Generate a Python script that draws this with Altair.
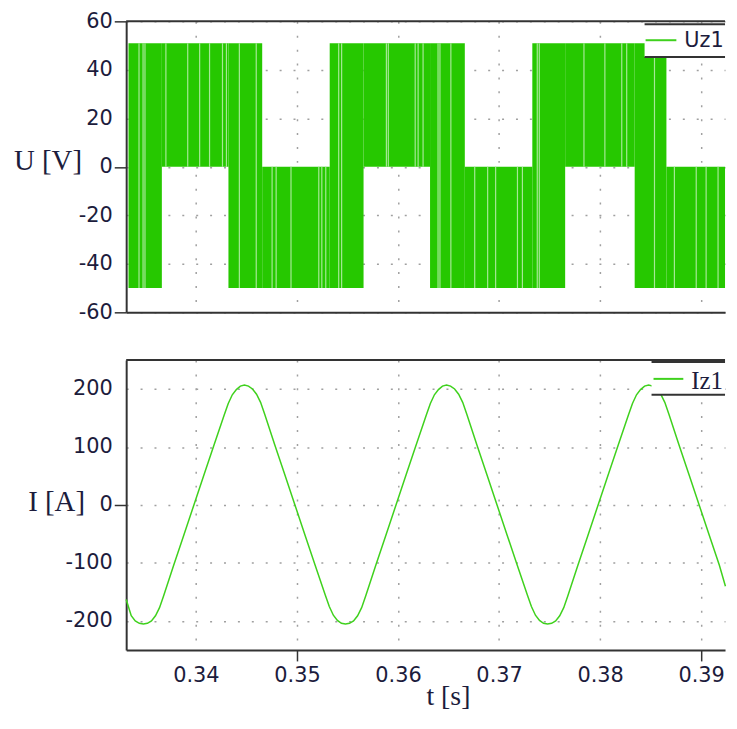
import altair as alt
import pandas as pd

# ---------------- data ----------------
x_ticks = [0.34, 0.35, 0.36, 0.37, 0.38, 0.39]
u_ticks = [60, 40, 20, 0, -20, -40, -60]
i_ticks = [200, 100, 0, -100, -200]

# PWM voltage Uz1: switching blocks (time start, time end, low level, high level)
seg_start = [0.33333, 0.33663, 0.34322, 0.34656, 0.35324, 0.35659, 0.36317,
             0.36661, 0.37329, 0.37654, 0.38342, 0.38656]
seg_end = [0.33663, 0.34322, 0.34656, 0.35324, 0.35659, 0.36317, 0.36661,
           0.37329, 0.37654, 0.38342, 0.38656, 0.39236]
seg_low = [-50, 0, -50, -50, -50, 0, -50, -50, -50, 0, -50, -50]
seg_high = [51, 51, 51, 0, 51, 51, 51, 0, 51, 51, 51, 0]

# visible lighter switching lines inside the blocks
gap_t = [0.33437, 0.33477, 0.33496, 0.33703, 0.33919, 0.34037, 0.34135,
         0.34263, 0.34302, 0.34430, 0.34597, 0.34754, 0.34794, 0.34941,
         0.35216, 0.35246, 0.35285, 0.35413, 0.35442, 0.35885, 0.35904,
         0.36170, 0.36199, 0.36248, 0.36396, 0.36415, 0.36523, 0.36759,
         0.36887, 0.36966, 0.37182, 0.37231, 0.37378, 0.37398, 0.37840,
         0.38047, 0.38214, 0.38263, 0.38538, 0.38735, 0.38951, 0.39049,
         0.39167]

# current Iz1
i_t = [0.3331, 0.3336, 0.3340, 0.3344, 0.3348, 0.3352, 0.3356, 0.3360, 0.3364,
       0.3368, 0.3378, 0.3388, 0.3398, 0.3408, 0.3418, 0.3428, 0.3432, 0.3436,
       0.3440, 0.3444, 0.3448, 0.3452, 0.3456, 0.3460, 0.3464, 0.3468, 0.3478,
       0.3488, 0.3498, 0.3508, 0.3518, 0.3528, 0.3532, 0.3536, 0.3540, 0.3544,
       0.3548, 0.3552, 0.3556, 0.3560, 0.3564, 0.3568, 0.3578, 0.3588, 0.3598,
       0.3608, 0.3618, 0.3628, 0.3632, 0.3636, 0.3640, 0.3644, 0.3648, 0.3652,
       0.3656, 0.3660, 0.3664, 0.3668, 0.3678, 0.3688, 0.3698, 0.3708, 0.3718,
       0.3728, 0.3732, 0.3736, 0.3740, 0.3744, 0.3748, 0.3752, 0.3756, 0.3760,
       0.3764, 0.3768, 0.3778, 0.3788, 0.3798, 0.3808, 0.3818, 0.3828, 0.3832,
       0.3836, 0.3840, 0.3844, 0.3848, 0.3852, 0.3856, 0.3860, 0.3864, 0.3868,
       0.3878, 0.3888, 0.3898, 0.3908, 0.3918, 0.3924]
i_val = [-163, -191, -200, -204, -205, -204, -200, -191, -177, -157, -104, -52,
         0, 52, 104, 155, 175, 190, 199, 205, 207, 205, 200, 191, 177, 157, 104,
         52, 0, -52, -104, -155, -175, -190, -199, -204, -205, -204, -200, -191,
         -177, -157, -104, -52, 0, 52, 104, 155, 175, 190, 199, 205, 207, 205,
         200, 191, 177, 157, 104, 52, 0, -52, -104, -155, -175, -190, -199, -204,
         -205, -204, -200, -191, -177, -157, -104, -52, 0, 52, 104, 155, 175,
         190, 199, 205, 207, 205, 200, 191, 177, 157, 104, 52, 0, -52, -104,
         -140]

# ---------------- styling ----------------
W = 603
H1 = 293
H2 = 292
X_DOMAIN = [0.3331, 0.39236]
GREEN = "#26c800"
GAP = "#a6e896"
ILINE = "#3fd11d"
TXT = "#1c1c3c"
AX = "#333333"
GRID_DASH = [2, 12]
GRID_COL = "#a0a0a0"
SANS = "DejaVu Sans"
SERIF = "Liberation Serif"
LFS = 21

seg_df = pd.DataFrame({"t0": seg_start, "t1": seg_end, "lo": seg_low, "hi": seg_high})
gap_rows = []
for g in gap_t:
    for s, e, lo, hi in zip(seg_start, seg_end, seg_low, seg_high):
        if s <= g < e:
            gap_rows.append({"t": g, "lo": lo, "hi": hi})
            break
gap_df = pd.DataFrame(gap_rows)
i_df = pd.DataFrame({"t": i_t, "I": i_val})

xscale = alt.Scale(domain=X_DOMAIN, nice=False, zero=False)

neg_label = "datum.value < 0 ? '-' + abs(datum.value) : '' + datum.value"

x_axis_top = alt.Axis(values=x_ticks, labels=False, ticks=False, title=None,
                      grid=True, gridDash=GRID_DASH, gridColor=GRID_COL, gridWidth=1.5,
                      domainColor=AX, domainWidth=2)

y_axis_u = alt.Axis(
    values=u_ticks, labelExpr=neg_label, labelFont=SANS, labelFontSize=LFS,
    labelColor=TXT, labelPadding=2, tickSize=12, tickWidth=1.5,
    tickColor={"condition": {"test": "datum.value == 0 || abs(datum.value) == 60",
                             "value": AX}, "value": "transparent"},
    grid=True, gridDash=GRID_DASH, gridColor=GRID_COL, gridWidth=1.5,
    domainColor=AX, domainWidth=2,
    title="U [V]", titleAngle=0, titleAlign="right", titleBaseline="middle",
    titleX=-45, titleY=140, titleFont=SERIF, titleFontSize=29,
    titleFontWeight="normal", titleColor=TXT,
)

x_axis_bot = alt.Axis(
    values=x_ticks, format=".2f", labelFont=SANS, labelFontSize=LFS,
    labelColor=TXT, labelPadding=4, tickSize=11, tickWidth=1.5,
    tickColor={"condition": {"test": "abs(datum.value - 0.35) < 1e-6 || abs(datum.value - 0.39) < 1e-6",
                             "value": AX}, "value": "transparent"},
    grid=True, gridDash=GRID_DASH, gridColor=GRID_COL, gridWidth=1.5,
    domainColor=AX, domainWidth=2,
    title="t [s]", titleX=324, titleY=33, titleAlign="center", titleBaseline="top",
    titleFont=SERIF, titleFontSize=28, titleFontWeight="normal", titleColor=TXT,
)

y_axis_i = alt.Axis(
    values=i_ticks, labelExpr=neg_label, labelFont=SANS, labelFontSize=LFS,
    labelColor=TXT, labelPadding=2, tickSize=12, tickWidth=1.5,
    tickColor={"condition": {"test": "datum.value == 0", "value": AX},
               "value": "transparent"},
    grid=True, gridDash=GRID_DASH, gridColor=GRID_COL, gridWidth=1.5,
    domainColor=AX, domainWidth=2,
    title="I [A]", titleAngle=0, titleAlign="right", titleBaseline="middle",
    titleX=-42, titleY=143, titleFont=SERIF, titleFontSize=29,
    titleFontWeight="normal", titleColor=TXT,
)


def legend_layers(name, x0, ytop, ybot, lx0, lx1, ly, tx, ty, font, fsize):
    d = pd.DataFrame({"name": [name]})
    box = alt.Chart(d).mark_rect(fill="white").encode(
        x=alt.value(x0), x2=alt.value(W), y=alt.value(ytop), y2=alt.value(ybot))
    top = alt.Chart(d).mark_rule(color=AX, strokeWidth=2).encode(
        x=alt.value(x0), x2=alt.value(W), y=alt.value(ytop))
    bot = alt.Chart(d).mark_rule(color=AX, strokeWidth=2).encode(
        x=alt.value(x0), x2=alt.value(W), y=alt.value(ybot))
    sample = alt.Chart(d).mark_rule(color=ILINE, strokeWidth=2).encode(
        x=alt.value(lx0), x2=alt.value(lx1), y=alt.value(ly))
    txt = alt.Chart(d).mark_text(align="left", baseline="middle", font=font,
                                 fontSize=fsize, color=TXT).encode(
        x=alt.value(tx), y=alt.value(ty), text="name:N")
    return [box, top, bot, sample, txt]


def top_border():
    return alt.Chart(pd.DataFrame({"a": [0]})).mark_rule(color=AX, strokeWidth=2).encode(
        x=alt.value(0), x2=alt.value(W), y=alt.value(0))


blocks = alt.Chart(seg_df).mark_rect(color=GREEN).encode(
    x=alt.X("t0:Q", scale=xscale, axis=x_axis_top),
    x2="t1:Q",
    y=alt.Y("lo:Q", scale=alt.Scale(domain=[-60, 60], nice=False), axis=y_axis_u),
    y2="hi:Q",
)
gaps = alt.Chart(gap_df).mark_rule(color=GAP, strokeWidth=1.2).encode(
    x=alt.X("t:Q", scale=xscale), y=alt.Y("lo:Q"), y2="hi:Q")

top_chart = alt.layer(
    blocks, gaps, top_border(),
    *legend_layers("Uz1", 522, 3, 36, 523, 554, 19, 562, 20, SANS, 21),
).properties(width=W, height=H1)

cur = alt.Chart(i_df).mark_line(color=ILINE, strokeWidth=1.5).encode(
    x=alt.X("t:Q", scale=xscale, axis=x_axis_bot),
    y=alt.Y("I:Q", scale=alt.Scale(domain=[-250, 250], nice=False), axis=y_axis_i),
)

bot_chart = alt.layer(
    cur, top_border(),
    *legend_layers("Iz1", 529, 2, 35, 531, 561, 19, 569, 21, SERIF, 25),
).properties(width=W, height=H2)

chart = alt.vconcat(top_chart, bot_chart, spacing=37).properties(
    padding={"left": 5, "top": 0, "right": 0, "bottom": 0},
    background="white",
).configure_view(strokeWidth=0)

chart.save("out.html", embed_options={"renderer": "svg", "actions": False})
